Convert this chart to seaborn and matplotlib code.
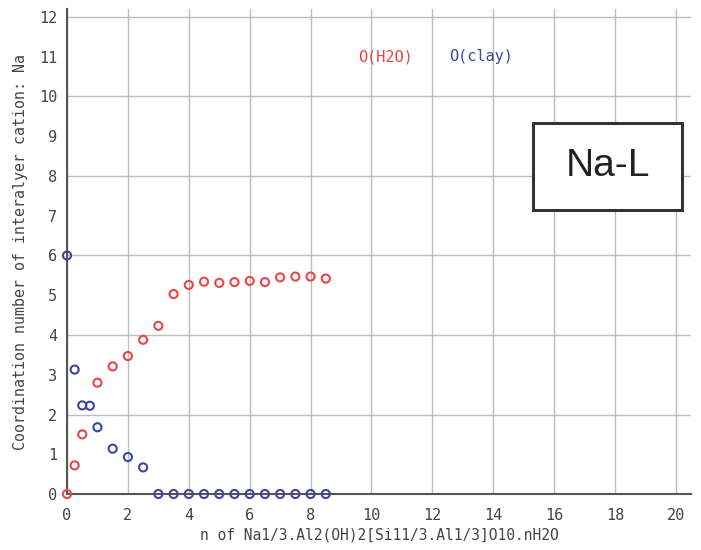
import matplotlib
matplotlib.use("Agg")
import matplotlib.pyplot as plt
from matplotlib.patches import Rectangle
from matplotlib.ticker import MultipleLocator, FormatStrFormatter
import seaborn as sns
import pandas as pd

# ---- data ----
h2o_n = [0, 0.25, 0.5, 1, 1.5, 2, 2.5, 3, 3.5, 4, 4.5, 5, 5.5, 6, 6.5, 7, 7.5, 8, 8.5]
h2o_cn = [0.0, 0.72, 1.5, 2.8, 3.21, 3.47, 3.88, 4.23, 5.03, 5.26, 5.34, 5.31, 5.33,
          5.36, 5.33, 5.45, 5.47, 5.47, 5.42]
clay_n = [0, 0.25, 0.5, 0.75, 1, 1.5, 2, 2.5, 3, 3.5, 4, 4.5, 5, 5.5, 6, 6.5, 7, 7.5, 8, 8.5]
clay_cn = [6.0, 3.13, 2.23, 2.22, 1.68, 1.14, 0.93, 0.67, 0, 0, 0, 0, 0, 0, 0, 0, 0, 0, 0, 0]
series_labels = ["O(H2O)", "O(clay)"]
title_box = "Na-L"
x_label = "n of Na1/3.Al2(OH)2[Si11/3.Al1/3]O10.nH2O"
y_label = "Coordination number of interalyer cation: Na"

RED = "#e8474a"
BLUE = "#3c47a0"

sns.set_style("white")
plt.rcParams["font.family"] = ["DejaVu Sans Mono", "DejaVu Sans"]

fig = plt.figure(figsize=(7.01, 5.5), dpi=100)
ax = fig.add_axes([0.0956, 0.1018, 0.8904, 0.8818])

df_h = pd.DataFrame({"n": h2o_n, "cn": h2o_cn})
df_c = pd.DataFrame({"n": clay_n, "cn": clay_cn})

sns.scatterplot(data=df_h, x="n", y="cn", ax=ax, marker="o", s=34,
                facecolor="none", edgecolor=RED, linewidth=1.5, clip_on=False, zorder=5)
sns.scatterplot(data=df_c, x="n", y="cn", ax=ax, marker="o", s=34,
                facecolor="none", edgecolor=BLUE, linewidth=1.5, clip_on=False, zorder=5)

ax.set_xlim(0, 20.5)
ax.set_ylim(0, 12.2)

ax.xaxis.set_major_locator(MultipleLocator(2))
ax.xaxis.set_minor_locator(MultipleLocator(1))
ax.yaxis.set_major_locator(MultipleLocator(2))
ax.yaxis.set_minor_locator(MultipleLocator(1))
ax.yaxis.set_major_formatter(FormatStrFormatter("%d"))
ax.yaxis.set_minor_formatter(FormatStrFormatter("%d"))

ax.grid(True, which="major", color="#bdbdbd", linewidth=1.0)
ax.set_axisbelow(True)

for s in ["top", "right"]:
    ax.spines[s].set_visible(False)
for s in ["left", "bottom"]:
    ax.spines[s].set_color("#555555")
    ax.spines[s].set_linewidth(1.5)

ax.tick_params(axis="both", which="both", direction="in", length=7, width=1.2,
               color="#555555", labelsize=11, labelcolor="#444444", pad=7)
ax.tick_params(axis="x", which="both", pad=10)
ax.tick_params(axis="y", which="minor", labelleft=True)

ax.set_xlabel(x_label, fontsize=10.5, color="#444444", labelpad=3)
ax.set_ylabel(y_label, fontsize=10.8, color="#444444", labelpad=8)

ax.text(10.45, 11.0, series_labels[0], color=RED, fontsize=11, ha="center", va="center")
ax.text(13.6, 11.0, series_labels[1], color=BLUE, fontsize=11, ha="center", va="center")

rect = Rectangle((15.3, 7.14), 4.9, 2.19, facecolor="white", edgecolor="#333333",
                 linewidth=2.2, zorder=3)
ax.add_patch(rect)
ax.text(17.75, 8.24, title_box, fontsize=28, family="Liberation Sans", color="#222222",
        ha="center", va="center", zorder=4)

fig.savefig("out.png", dpi=100)
